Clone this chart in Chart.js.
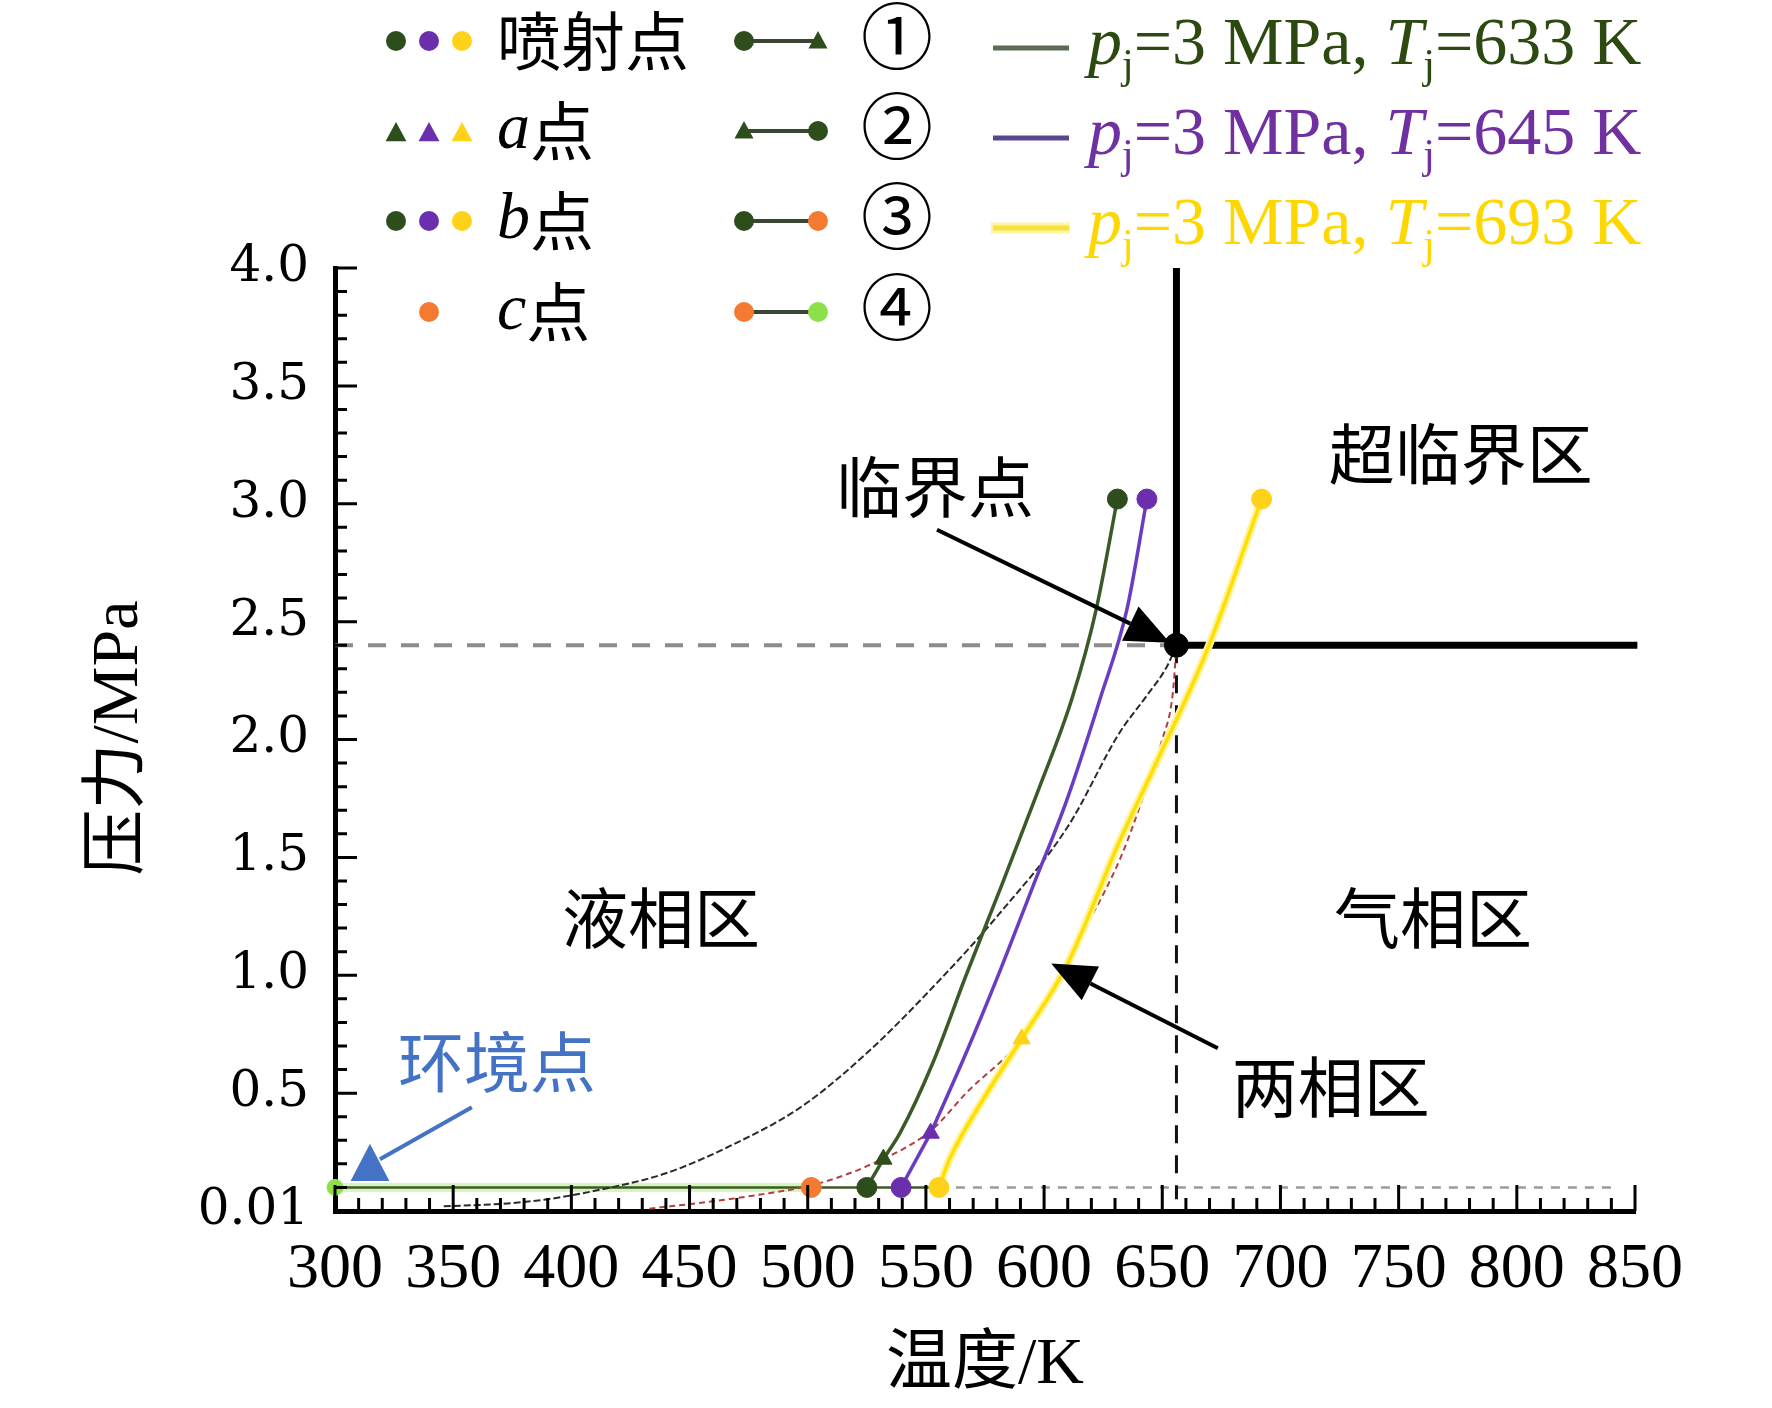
<!DOCTYPE html>
<html>
<head>
<meta charset="utf-8">
<script src="https://cdn.jsdelivr.net/npm/chart.js@4.4.1/dist/chart.umd.min.js"></script>
<style>
  html, body { margin: 0; padding: 0; background: #fff; }
  canvas { display: block; }
</style>
</head>
<body>
<canvas id="chart" width="1772" height="1408"></canvas>
<script>
// axis ranges
const tMin = 300, tMax = 850, tStep = 50;
const pMin = 0, pMax = 4, pStep = 0.5;

// critical point and reference pressures
const critT = 656, critP = 2.40;
const ambP = 0.1;

// saturation line (black dashed)
const satT = [346, 370, 390, 412, 440, 468, 497, 525, 553, 581, 610, 632, 643, 652, 656];
const satP = [0.02, 0.03, 0.05, 0.09, 0.16, 0.28, 0.44, 0.67, 0.95, 1.26, 1.63, 2.03, 2.18, 2.31, 2.40];

// red dashed line
const redT = [433, 459, 480, 502, 525, 552, 567, 593, 609.5, 632, 641, 650, 654.5, 656];
const redP = [0.01, 0.04, 0.07, 0.11, 0.19, 0.34, 0.50, 0.76, 1.06, 1.49, 1.73, 2.00, 2.20, 2.40];

// path 1: injection -> a
const g1T = [631, 622, 612, 597, 582, 567, 553, 539, 532];
const g1P = [3.02, 2.55, 2.18, 1.77, 1.38, 1.00, 0.63, 0.33, 0.22];
const p1T = [643.5, 635, 623.6, 609.5, 595, 581, 567, 552];
const p1P = [3.02, 2.55, 2.17, 1.74, 1.37, 1.01, 0.67, 0.33];
const y1T = [692, 669, 646, 632, 609.5, 590.5];
const y1P = [3.02, 2.38, 1.87, 1.57, 1.04, 0.73];

// path 2: a -> b
const g2T = [532, 525], g2P = [0.22, 0.10];
const p2T = [552, 539.5], p2P = [0.33, 0.10];
const y2T = [590.5, 574, 560, 555.5], y2P = [0.73, 0.47, 0.22, 0.10];

// path 3: b -> c, path 4: c -> ambient
const path3T = [555.5, 501.5], path3P = [0.10, 0.10];
const path4T = [501.5, 300], path4P = [0.10, 0.10];

// marker points
const injT = [631, 643.5, 692], injP = [3.02, 3.02, 3.02];
const aT = [532, 552, 590.5], aP = [0.22, 0.33, 0.73];
const bT = [525, 539.5, 555.5], bP = [0.10, 0.10, 0.10];
const cT = [501.5], cP = [0.10];
const envT = [300], envP = [0.10];

// region labels
const labelText = ['临界点', '超临界区', '液相区', '气相区', '两相区', '环境点'];
const labelT = [553.8, 776.3, 437.9, 764.5, 721.3, 368.5];
const labelP = [3.07, 3.21, 1.243, 1.243, 0.526, 0.632];

// black arrows: 临界点, 两相区
const arrowFromT = [554.7, 673.5], arrowFromP = [2.89, 0.69];
const arrowToT = [653.2, 603], arrowToP = [2.41, 1.05];

// colours
const cGreen = '#2e4d1c', cGreenLine = '#3b5a27';
const cPurple = '#6b2fad', cPurpleLine = '#6a3cc2';
const cYellow = '#ffd21a', cYellowLine = '#ffdf00';
const cOrange = '#f47a32', cLight = '#8ee04a';
const cBlue = '#4472c4';

const CJK = '"Noto Sans CJK SC"';
const SERIF = '"Liberation Serif", ' + CJK;

const pts = (xs, ys) => xs.map((x, i) => ({ x: x, y: ys[i] }));

function lineSet(xs, ys, color, width, opts) {
  return Object.assign({
    data: pts(xs, ys), borderColor: color, borderWidth: width,
    pointRadius: 0, fill: false, tension: 0, clip: false, order: 5
  }, opts || {});
}

function markSet(xs, ys, colors, style, r) {
  return {
    data: pts(xs, ys), showLine: false, pointStyle: style, pointRadius: r,
    backgroundColor: colors, borderColor: colors, borderWidth: 1, clip: false, order: 0
  };
}

const smooth = { cubicInterpolationMode: 'monotone' };

const datasets = [
  lineSet([tMin, critT], [critP, critP], '#8c8c8c', 4, { borderDash: [18, 15], order: 9 }),
  lineSet([critT, critT], [critP, 0.05], '#111', 3, { borderDash: [18, 12], order: 9 }),
  lineSet([critT, critT], [critP, pMax], '#000', 7, { order: 8 }),
  lineSet([critT, 851], [critP, critP], '#000', 7, { order: 8 }),
  lineSet([555.5, 841], [ambP, ambP], '#9a9a9a', 2.5, { borderDash: [9, 8], order: 9 }),
  lineSet(path4T, path4P, '#d6f5bf', 9, { order: 8 }),
  lineSet(path4T, path4P, cGreenLine, 2.5, { order: 7 }),
  lineSet(path3T, path3P, cGreenLine, 2.5, { order: 7 }),
  lineSet(satT, satP, '#2a2a2a', 2, Object.assign({ borderDash: [7, 3], order: 6 }, smooth)),
  lineSet(redT, redP, '#b34040', 2, Object.assign({ borderDash: [6, 4], order: 6 }, smooth)),
  lineSet(y1T, y1P, '#fff29a', 8, Object.assign({ order: 5 }, smooth)),
  lineSet(y2T, y2P, '#fff29a', 8, Object.assign({ order: 5 }, smooth)),
  lineSet(y1T, y1P, cYellowLine, 3.5, Object.assign({ order: 4 }, smooth)),
  lineSet(y2T, y2P, cYellowLine, 3.5, Object.assign({ order: 4 }, smooth)),
  lineSet(g1T, g1P, cGreenLine, 3.5, Object.assign({ order: 4 }, smooth)),
  lineSet(g2T, g2P, cGreenLine, 3.5, { order: 4 }),
  lineSet(p1T, p1P, cPurpleLine, 3.5, Object.assign({ order: 4 }, smooth)),
  lineSet(p2T, p2P, cPurpleLine, 3.5, { order: 4 }),
  markSet(envT, envP, [cLight], 'circle', 8),
  markSet(cT, cP, [cOrange], 'circle', 10),
  markSet(bT, bP, [cGreen, cPurple, cYellow], 'circle', 10),
  markSet(aT, aP, [cGreen, cPurple, cYellow], 'triangle', 10),
  markSet(injT, injP, [cGreen, cPurple, cYellow], 'circle', 10),
  markSet([critT], [critP], ['#000'], 'circle', 12)
];

function arrow(ctx, x1, y1, x2, y2, color, len, half, width) {
  const ang = Math.atan2(y2 - y1, x2 - x1);
  const bx = x2 - len * Math.cos(ang), by = y2 - len * Math.sin(ang);
  ctx.strokeStyle = color; ctx.fillStyle = color; ctx.lineWidth = width;
  ctx.beginPath(); ctx.moveTo(x1, y1); ctx.lineTo(bx, by); ctx.stroke();
  ctx.beginPath();
  ctx.moveTo(x2, y2);
  ctx.lineTo(bx + half * Math.sin(ang), by - half * Math.cos(ang));
  ctx.lineTo(bx - half * Math.sin(ang), by + half * Math.cos(ang));
  ctx.closePath(); ctx.fill();
}

// inward tick marks, major and minor
const tickMarks = {
  id: 'tickMarks',
  afterDraw(chart) {
    const { ctx, chartArea: a, scales: { x, y } } = chart;
    ctx.save();
    ctx.strokeStyle = '#000'; ctx.lineWidth = 3;
    ctx.beginPath();
    for (let t = tMin; t <= tMax; t += 10) {
      const px = x.getPixelForValue(t);
      const len = (t - tMin) % tStep === 0 ? 26 : 13;
      ctx.moveTo(px, a.bottom); ctx.lineTo(px, a.bottom - len);
    }
    for (let k = 0; k <= 40; k++) {
      const py = y.getPixelForValue(k / 10);
      const len = k % 5 === 0 ? 22 : 12;
      ctx.moveTo(a.left, py); ctx.lineTo(a.left + len, py);
    }
    ctx.stroke();
    ctx.restore();
  }
};

// region labels, arrows, axis titles
const notes = {
  id: 'notes',
  afterDatasetsDraw(chart) {
    const { ctx, scales: { x, y } } = chart;
    ctx.save();
    ctx.textAlign = 'center'; ctx.textBaseline = 'middle';
    labelText.forEach((s, i) => {
      ctx.font = '66px ' + CJK;
      ctx.fillStyle = s === '环境点' ? cBlue : '#000';
      ctx.fillText(s, x.getPixelForValue(labelT[i]), y.getPixelForValue(labelP[i]));
    });
    arrowFromT.forEach((t, i) => {
      arrow(ctx, x.getPixelForValue(t), y.getPixelForValue(arrowFromP[i]),
        x.getPixelForValue(arrowToT[i]), y.getPixelForValue(arrowToP[i]), '#000', 44, 19, 4);
    });
    // blue ambient pointer
    ctx.strokeStyle = cBlue; ctx.fillStyle = cBlue; ctx.lineWidth = 4;
    ctx.beginPath();
    ctx.moveTo(x.getPixelForValue(357.9), y.getPixelForValue(0.44));
    ctx.lineTo(x.getPixelForValue(319), y.getPixelForValue(0.22));
    ctx.stroke();
    ctx.beginPath();
    ctx.moveTo(x.getPixelForValue(314.8), y.getPixelForValue(0.285));
    ctx.lineTo(x.getPixelForValue(306.6), y.getPixelForValue(0.127));
    ctx.lineTo(x.getPixelForValue(323), y.getPixelForValue(0.127));
    ctx.closePath(); ctx.fill();

    // axis titles
    ctx.fillStyle = '#000';
    ctx.font = '66px ' + SERIF;
    ctx.fillText('温度/K', 985, 1366);
    ctx.translate(120, 738);
    ctx.rotate(-Math.PI / 2);
    ctx.fillText('压力/MPa', 0, 0);
    ctx.restore();
  }
};

function rich(ctx, parts, x, y) {
  parts.forEach(p => {
    ctx.font = p.f;
    ctx.fillText(p.t, x, y + (p.dy || 0));
    x += ctx.measureText(p.t).width;
  });
}

function drawMark(ctx, kind, cx, cy, color, r) {
  ctx.fillStyle = color;
  ctx.beginPath();
  if (kind === 'tri') {
    ctx.moveTo(cx, cy - r); ctx.lineTo(cx + r * 0.95, cy + r * 0.75); ctx.lineTo(cx - r * 0.95, cy + r * 0.75);
    ctx.closePath();
  } else {
    ctx.arc(cx, cy, r, 0, Math.PI * 2);
  }
  ctx.fill();
}

// legend drawn above the plot
const legendRows = [41, 131, 221, 312];
const legendBox = {
  id: 'legendBox',
  afterDraw(chart) {
    const ctx = chart.ctx;
    ctx.save();
    const trio = [cGreen, cPurple, cYellow];
    const dotX = [396, 429, 462];
    dotX.forEach((dx, i) => {
      drawMark(ctx, 'dot', dx, legendRows[0], trio[i], 10);
      drawMark(ctx, 'tri', dx, legendRows[1] + 2, trio[i], 11);
      drawMark(ctx, 'dot', dx, legendRows[2], trio[i], 10);
    });
    drawMark(ctx, 'dot', 429, legendRows[3], cOrange, 10);

    ctx.fillStyle = '#000'; ctx.textAlign = 'left'; ctx.textBaseline = 'middle';
    const it = 'italic 66px "Liberation Serif"';
    const cj = '64px ' + CJK;
    rich(ctx, [{ t: '喷射点', f: cj }], 497, legendRows[0]);
    rich(ctx, [{ t: 'a', f: it }, { t: '点', f: cj }], 497, legendRows[1]);
    rich(ctx, [{ t: 'b', f: it }, { t: '点', f: cj }], 497, legendRows[2]);
    rich(ctx, [{ t: 'c', f: it }, { t: '点', f: cj }], 497, legendRows[3]);

    const pairs = [
      [['dot', cGreen], ['tri', cGreen]],
      [['tri', cGreen], ['dot', cGreen]],
      [['dot', cGreen], ['dot', cOrange]],
      [['dot', cOrange], ['dot', cLight]]
    ];
    const nums = ['①', '②', '③', '④'];
    pairs.forEach((pr, i) => {
      const yy = legendRows[i];
      ctx.strokeStyle = '#3a4632'; ctx.lineWidth = 4;
      ctx.beginPath(); ctx.moveTo(744, yy); ctx.lineTo(818, yy); ctx.stroke();
      drawMark(ctx, pr[0][0], 744, yy, pr[0][1], 10);
      drawMark(ctx, pr[1][0], 818, yy, pr[1][1], 10);
      ctx.fillStyle = '#000';
      ctx.textAlign = 'center';
      ctx.font = '72px "DejaVu Serif", ' + CJK;
      ctx.fillText(nums[i], 897, yy + 3);
      ctx.textAlign = 'left';
    });

    const runT = [633, 645, 693];
    const runLine = ['#5d6b52', '#5a468f', '#f5e23a'];
    const runText = ['#2c4a10', '#7030a0', '#ffd700'];
    runT.forEach((t, i) => {
      const yy = legendRows[i];
      if (i === 2) {
        ctx.strokeStyle = '#fff4a8'; ctx.lineWidth = 11;
        ctx.beginPath(); ctx.moveTo(991, yy + 7); ctx.lineTo(1070, yy + 7); ctx.stroke();
      }
      ctx.strokeStyle = runLine[i]; ctx.lineWidth = 5;
      ctx.beginPath(); ctx.moveTo(993, yy + 7); ctx.lineTo(1069, yy + 7); ctx.stroke();
      ctx.fillStyle = runText[i];
      ctx.textBaseline = 'alphabetic';
      const up = '68px "Liberation Serif"', sub = '42px "Liberation Serif"';
      const itl = 'italic 68px "Liberation Serif"';
      rich(ctx, [
        { t: 'p', f: itl }, { t: 'j', f: sub, dy: 14 },
        { t: '=3 MPa, ', f: up },
        { t: 'T', f: itl }, { t: 'j', f: sub, dy: 14 },
        { t: '=' + t + ' K', f: up }
      ], 1088, yy + 23);
      ctx.textBaseline = 'middle';
    });
    ctx.restore();
  }
};

new Chart(document.getElementById('chart'), {
  type: 'line',
  data: { datasets: datasets },
  options: {
    responsive: false,
    animation: false,
    devicePixelRatio: 1,
    layout: { padding: { top: 268, right: 137, left: 0, bottom: 0 } },
    plugins: { legend: { display: false }, tooltip: { enabled: false } },
    scales: {
      x: {
        type: 'linear', min: tMin, max: tMax,
        afterFit: s => { s.height = 197; },
        grid: { display: false, drawTicks: false },
        border: { display: true, color: '#000', width: 5 },
        ticks: {
          stepSize: tStep, color: '#000', padding: 21, maxRotation: 0, autoSkip: false,
          font: { family: 'Liberation Serif', size: 64 }
        }
      },
      y: {
        type: 'linear', min: pMin, max: pMax,
        afterFit: s => { s.width = 335; },
        grid: { display: false, drawTicks: false },
        border: { display: true, color: '#000', width: 5 },
        ticks: {
          stepSize: pStep, color: '#000', padding: 26, autoSkip: false,
          font: { family: 'DejaVu Serif', size: 50 },
          callback: v => v === 0 ? '0.01' : v.toFixed(1)
        }
      }
    }
  },
  plugins: [tickMarks, notes, legendBox]
});
</script>
</body>
</html>
